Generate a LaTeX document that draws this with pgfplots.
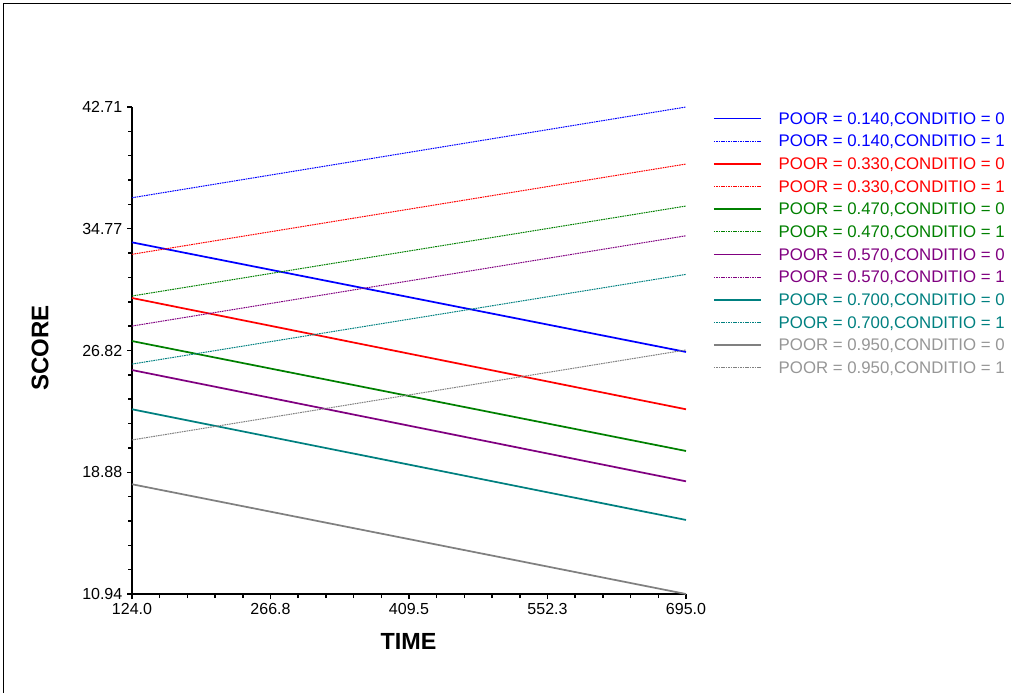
\documentclass[border=0pt]{standalone}
\usepackage{fontspec}
\setmainfont{Liberation Sans}
\usepackage{pgfplots}
\pgfplotsset{compat=1.18}
\definecolor{cblue}{RGB}{0,0,255}
\definecolor{cred}{RGB}{255,0,0}
\definecolor{cgreen}{RGB}{0,128,0}
\definecolor{cpurple}{RGB}{128,0,128}
\definecolor{cteal}{RGB}{0,128,128}
\definecolor{cgray}{RGB}{128,128,128}
\definecolor{cgraytext}{RGB}{150,150,150}
\begin{document}
\begin{tikzpicture}[x=1pt,y=1pt]
\path[use as bounding box] (0,0) rectangle (758.25,519.75);
\draw[line width=1.4pt] (2.6,0) -- (2.6,517.1) -- (758.25,517.1);
\begin{axis}[
  at={(99pt,74.25pt)}, anchor=south west,
  scale only axis, width=415.5pt, height=365.25pt,
  xmin=124, xmax=695, ymin=10.94, ymax=42.71,
  axis lines*=left,
  axis line style={line width=1.5pt, black},
  clip=false,
  tick align=outside,
  major tick length=3.75pt, minor tick length=3pt,
  every tick/.style={line width=1.1pt, black},
  xtick={124,266.75,409.5,552.25,695},
  xticklabels={124.0,266.8,409.5,552.3,695.0},
  ytick={10.94,18.8825,26.825,34.7675,42.71},
  yticklabels={10.94,18.88,26.82,34.77,42.71},
  minor x tick num=4, minor y tick num=4,
  ticklabel style={font=\fontsize{12}{14}\selectfont},
  xlabel={TIME}, ylabel={SCORE},
  xlabel style={at={(rel axis cs:0.499,-0.0965)}, anchor=center, font=\bfseries\fontsize{17.5}{20}\selectfont},
  ylabel style={at={(rel axis cs:-0.166,0.505)}, anchor=center, font=\bfseries\fontsize{18}{20}\selectfont},
  legend style={at={(rel axis cs:1.0487,0.9897)}, anchor=north west,
    draw=none, fill=none, inner sep=0pt, outer sep=0pt,
    font=\fontsize{12.6}{15}\selectfont,
    row sep=5.5pt, column sep=0pt,
    nodes={inner sep=0pt, text height=9pt, text depth=2.5pt}},
  legend cell align=left,
  legend image code/.code={\draw[#1] (0pt,0.9pt) -- (35.25pt,0.9pt); \path (48pt,0pt);},
  solid0/.style={line width=1.3pt},
  dot1/.style={line width=0.75pt, dash pattern=on 1.2pt off 0.6pt},
]
\addplot[cblue, solid0] coordinates {(124,33.88) (695,26.73)};
\addlegendentry{\textcolor{cblue}{POOR = 0.140,CONDITIO = 0}}
\addplot[cblue, dot1] coordinates {(124,36.79) (695,42.71)};
\addlegendentry{\textcolor{cblue}{POOR = 0.140,CONDITIO = 1}}
\addplot[cred, solid0] coordinates {(124,30.25) (695,22.99)};
\addlegendentry{\textcolor{cred}{POOR = 0.330,CONDITIO = 0}}
\addplot[cred, dot1] coordinates {(124,33.10) (695,38.99)};
\addlegendentry{\textcolor{cred}{POOR = 0.330,CONDITIO = 1}}
\addplot[cgreen, solid0] coordinates {(124,27.44) (695,20.27)};
\addlegendentry{\textcolor{cgreen}{POOR = 0.470,CONDITIO = 0}}
\addplot[cgreen, dot1] coordinates {(124,30.38) (695,36.25)};
\addlegendentry{\textcolor{cgreen}{POOR = 0.470,CONDITIO = 1}}
\addplot[cpurple, solid0] coordinates {(124,25.55) (695,18.29)};
\addlegendentry{\textcolor{cpurple}{POOR = 0.570,CONDITIO = 0}}
\addplot[cpurple, dot1] coordinates {(124,28.42) (695,34.31)};
\addlegendentry{\textcolor{cpurple}{POOR = 0.570,CONDITIO = 1}}
\addplot[cteal, solid0] coordinates {(124,22.99) (695,15.77)};
\addlegendentry{\textcolor{cteal}{POOR = 0.700,CONDITIO = 0}}
\addplot[cteal, dot1] coordinates {(124,25.94) (695,31.79)};
\addlegendentry{\textcolor{cteal}{POOR = 0.700,CONDITIO = 1}}
\addplot[cgray, solid0] coordinates {(124,18.10) (695,10.94)};
\addlegendentry{\textcolor{cgraytext}{POOR = 0.950,CONDITIO = 0}}
\addplot[cgray, dot1] coordinates {(124,20.99) (695,26.86)};
\addlegendentry{\textcolor{cgraytext}{POOR = 0.950,CONDITIO = 1}}
\end{axis}
\end{tikzpicture}
\end{document}
